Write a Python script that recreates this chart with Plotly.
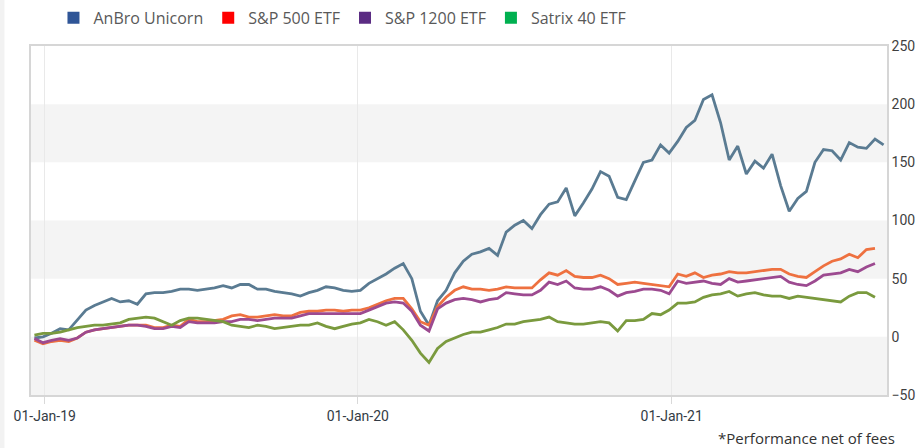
import pandas as pd
import plotly.graph_objects as go

# ---------------- data ----------------
start_date = "2018-12-20"
step = "10D"
n_points = 100
dates = pd.date_range(start_date, periods=n_points, freq=step)

anbro = [-1, 0, 3, 7, 6, 15, 23, 27, 30, 33,
         30, 31, 28, 37, 38, 38, 39, 41, 41, 40,
         41, 42, 44, 42, 45, 45, 41, 41, 39, 38,
         37, 35, 38, 40, 43, 42, 40, 39, 40, 46,
         50, 54, 59, 63, 50, 22, 10, 31, 40, 55,
         65, 71, 73, 76, 70, 90, 96, 100, 93, 105,
         114, 116, 128, 104, 115, 127, 142, 138, 120, 118,
         134, 150, 152, 165, 158, 168, 180, 186, 204, 208,
         184, 152, 164, 140, 151, 145, 157, 130, 108, 119,
         125, 150, 161, 160, 152, 167, 163, 162, 170, 165]

sp500 = [-3, -6, -4, -3, -4, -1, 4, 6, 7, 8,
         9, 10, 10, 10, 8, 8, 10, 9, 15, 13,
         13, 14, 15, 18, 19, 17, 17, 18, 19, 18,
         18, 21, 22, 22, 23, 23, 22, 23, 23, 25,
         28, 31, 33, 33, 24, 13, 10, 26, 34, 40,
         43, 41, 41, 40, 41, 43, 42, 42, 42, 49,
         55, 53, 57, 52, 51, 51, 53, 50, 45, 46,
         47, 46, 45, 44, 43, 54, 52, 55, 51, 53,
         54, 56, 55, 55, 56, 57, 58, 58, 54, 52,
         51, 56, 61, 65, 67, 71, 68, 75, 76, None]

sp1200 = [-1.5, -5, -3, -1.5, -3, -1, 4, 6, 7, 8,
          9, 10, 10, 9, 7, 7, 9, 8, 13, 12,
          12, 12, 13, 13, 15, 15, 14, 15, 16, 16,
          16, 18, 20, 20, 20, 20, 20, 20, 20, 23,
          26, 29, 30, 29, 22, 10, 5, 24, 29, 32,
          33, 32, 30, 32, 33, 38, 37, 36, 36, 40,
          47, 45, 48, 42, 41, 41, 43, 40, 35, 38,
          39, 41, 41, 40, 37, 48, 46, 47, 48, 46,
          45, 50, 47, 48, 49, 50, 51, 52, 47, 45,
          44, 48, 53, 54, 55, 58, 56, 60, 63, None]

satrix40 = [1.5, 3, 3, 4, 6, 8, 9, 10, 10, 11,
            12, 15, 16, 17, 16, 13, 10, 14, 16, 16,
            15, 14, 13, 10, 9, 8, 10, 9, 7, 8,
            9, 10, 10, 12, 9, 7, 9, 11, 12, 15,
            13, 10, 13, 6, -3, -14, -22, -10, -4, -1,
            2, 4, 4, 6, 8, 11, 11, 13, 14, 15,
            17, 13, 12, 11, 11, 12, 13, 12, 5, 14,
            14, 15, 20, 19, 23, 29, 29, 30, 34, 36,
            37, 39, 35, 37, 38, 36, 35, 35, 33, 35,
            34, 33, 32, 31, 30, 35, 38, 38, 34, None]

series_names = ["AnBro Unicorn", "S&P 500 ETF", "S&P 1200 ETF", "Satrix 40 ETF"]
series_values = [anbro, sp500, sp1200, satrix40]
line_colors = ["#5A7B92", "#EE7140", "#9C4A90", "#7A9A3E"]
legend_colors = ["#2F5597", "#FF0000", "#5B2C83", "#00B050"]

x_tick_dates = ["2019-01-01", "2020-01-01", "2021-01-01"]
x_tick_labels = ["01-Jan-19", "01-Jan-20", "01-Jan-21"]
y_ticks = [-50, 0, 50, 100, 150, 200, 250]
y_bands = [(-50, 0), (50, 100), (150, 200)]
footnote = "*Performance net of fees"

# ---------------- figure ----------------
fig = go.Figure()

for name, vals, col in zip(series_names, series_values, line_colors):
    fig.add_trace(go.Scatter(
        x=dates, y=vals, mode="lines", name=name, showlegend=False,
        line=dict(color=col, width=2.8), connectgaps=False,
    ))

for name, col in zip(series_names, legend_colors):
    fig.add_trace(go.Scatter(
        x=[None], y=[None], mode="markers", name=name,
        marker=dict(symbol="square", size=12, color=col),
    ))

for y0, y1 in y_bands:
    fig.add_shape(type="rect", xref="paper", yref="y", x0=0, x1=1, y0=y0, y1=y1,
                  fillcolor="#F4F4F4", line=dict(width=0), layer="below")

# light strip at far left edge
fig.add_shape(type="rect", xref="paper", yref="paper", x0=-0.0362, x1=-0.031,
              y0=-0.2, y1=1.2, fillcolor="#F2F2F2", line=dict(width=0), layer="below")

fig.add_annotation(text=footnote, xref="paper", yref="paper", x=1.012, y=-0.123,
                   xanchor="right", yanchor="middle", showarrow=False,
                   font=dict(family="Open Sans", size=15, color="#333333"))

fig.update_layout(
    width=922, height=448,
    margin=dict(l=31, r=35, t=46, b=53, autoexpand=False),
    paper_bgcolor="white", plot_bgcolor="white",
    font=dict(family="Open Sans", color="#404040"),
    legend=dict(orientation="h", xref="container", yref="container",
                x=0.058, y=0.96, xanchor="left", yanchor="middle",
                font=dict(family="Open Sans", size=16, color="#595959"),
                bgcolor="rgba(0,0,0,0)", itemwidth=30, tracegroupgap=0),
    xaxis=dict(
        range=["2018-12-16", "2021-09-09"],
        tickvals=x_tick_dates, ticktext=x_tick_labels,
        ticks="outside", ticklen=7, tickcolor="#D9D9D9",
        showgrid=True, gridcolor="#E9E9E9", gridwidth=1,
        showline=True, linecolor="#D6D6D6", linewidth=1.5, mirror=True,
        zeroline=False,
        tickfont=dict(family="Roboto", size=14, color="#333B45"),
    ),
    yaxis=dict(
        range=[-50, 250], side="right", tickvals=y_ticks,
        showgrid=False, zeroline=False,
        showline=True, linecolor="#D6D6D6", linewidth=1.5, mirror=True,
        ticks="", tickfont=dict(family="Roboto", size=14, color="#3F3F3F"),
    ),
)

fig.write_html("out.html", config={"displayModeBar": False},
               post_script="document.body.style.margin='0';")
